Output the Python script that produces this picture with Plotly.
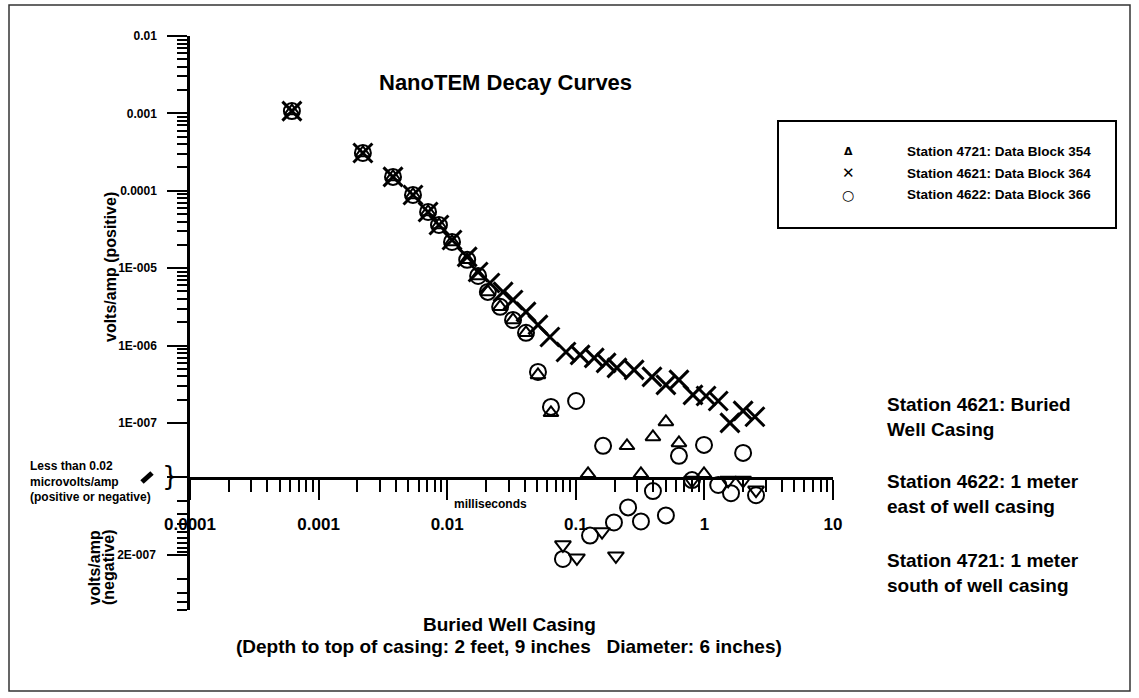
import math
import plotly.graph_objects as go

FONT = "Liberation Sans, Arial, sans-serif"

# ---------------- data (time in milliseconds, response in volts/amp) ----------------
# Station 4621: Data Block 364 (X markers)
t_4621 = [6.2e-4, 2.21e-3, 3.79e-3, 5.42e-3, 7.10e-3, 8.63e-3, 1.09e-2, 1.43e-2, 1.74e-2,
          2.15e-2, 2.72e-2, 3.25e-2, 4.10e-2, 5.08e-2, 6.29e-2, 8.39e-2, 0.108, 0.139, 0.172,
          0.209, 0.284, 0.391, 0.502, 0.634, 0.815, 1.03, 1.28, 1.58, 2.0, 2.47]
v_4621 = [1.07e-3, 3.08e-4, 1.51e-4, 8.83e-5, 5.32e-5, 3.61e-5, 2.31e-5, 1.40e-5, 8.93e-6,
          6.44e-6, 4.93e-6, 3.88e-6, 2.72e-6, 1.85e-6, 1.29e-6, 8.26e-7, 7.56e-7, 6.92e-7, 5.96e-7,
          5.14e-7, 4.84e-7, 3.93e-7, 3.10e-7, 3.60e-7, 2.30e-7, 2.23e-7, 1.92e-7, 1.0e-7, 1.43e-7, 1.20e-7]

# Station 4622: Data Block 366 (circles), positive values
t_4622_pos = [6.2e-4, 2.21e-3, 3.79e-3, 5.42e-3, 7.10e-3, 8.63e-3, 1.09e-2, 1.43e-2, 1.74e-2,
              2.07e-2, 2.58e-2, 3.25e-2, 4.10e-2, 5.08e-2, 6.41e-2, 0.1005, 0.163, 0.634, 0.993, 2.0]
v_4622_pos = [1.07e-3, 3.08e-4, 1.51e-4, 8.83e-5, 5.32e-5, 3.61e-5, 2.18e-5, 1.28e-5, 7.92e-6,
              4.93e-6, 3.16e-6, 2.14e-6, 1.46e-6, 4.56e-7, 1.61e-7, 1.92e-7, 5.05e-8, 3.75e-8, 5.2e-8, 4.1e-8]
# Station 4622 negative values
t_4622_neg = [0.0794, 0.129, 0.198, 0.255, 0.321, 0.398, 0.502, 0.801, 1.28, 1.61, 2.52]
v_4622_neg = [-2.23e-7, -1.12e-7, -7.62e-8, -4.89e-8, -7.40e-8, -3.03e-8, -6.19e-8, -2.19e-8,
              -2.53e-8, -3.22e-8, -3.42e-8]

# Station 4721: Data Block 354 (triangles), positive values
t_4721_pos = [6.2e-4, 2.21e-3, 3.79e-3, 5.42e-3, 7.10e-3, 8.63e-3, 1.09e-2, 1.43e-2, 1.74e-2,
              2.07e-2, 2.58e-2, 3.25e-2, 4.10e-2, 5.08e-2, 6.41e-2, 0.1245, 0.250, 0.321, 0.398,
              0.502, 0.634, 0.993]
v_4721_pos = [1.07e-3, 3.08e-4, 1.51e-4, 8.83e-5, 5.32e-5, 3.61e-5, 2.18e-5, 1.28e-5, 7.92e-6,
              4.93e-6, 3.16e-6, 2.14e-6, 1.46e-6, 4.17e-7, 1.35e-7, 2.2e-8, 5.05e-8, 2.2e-8, 6.59e-8,
              1.03e-7, 5.52e-8, 2.2e-8]
# Station 4721 negative values
t_4721_neg = [0.0794, 0.102, 0.160, 0.205, 0.801, 1.53, 2.0, 2.52]
v_4721_neg = [-1.47e-7, -2.16e-7, -9.98e-8, -2.04e-7, -2.2e-8, -2.2e-8, -2.2e-8, -2.94e-8]

# axis ticks
x_tickvals = [1e-4, 1e-3, 1e-2, 1e-1, 1, 10]
x_ticktext = ["0.0001", "0.001", "0.01", "0.1", "1", "10"]
y_tickvals = [1e-2, 1e-3, 1e-4, 1e-5, 1e-6, 1e-7, 2e-8]
y_ticktext = ["0.01", "0.001", "0.0001", "1E-005", "1E-006", "1E-007", ""]
yneg_tickvals = [2e-7]
yneg_ticktext = ["2E-007"]
threshold = 2e-8  # 0.02 microvolts/amp

x_minor = [k * 10.0 ** e for e in range(-4, 1) for k in range(2, 10)]
y_minor = [k * 10.0 ** e for e in range(-7, -2) for k in range(2, 10)]
yneg_minor = [k * threshold for k in range(2, 10)] + [4e-7, 6e-7, 8e-7, 1e-6]

# ---------------- layout geometry (pixels) ----------------
W, H = 1139, 698
L, R, T, B = 190, 833, 36, 610
AX_Y = 477


def px(x):
    return (x - L) / (R - L)


def py(y):
    return (B - y) / (B - T)


split = py(AX_Y)

fig = go.Figure()

mk = dict(color="black")
fig.add_trace(go.Scatter(x=t_4721_pos, y=v_4721_pos, mode="markers", name="Station 4721: Data Block 354",
                         marker=dict(symbol="triangle-up-open", size=13, line=dict(width=2, color="black"), **mk),
                         cliponaxis=False, xaxis="x", yaxis="y"))
fig.add_trace(go.Scatter(x=t_4621, y=v_4621, mode="markers", name="Station 4621: Data Block 364",
                         marker=dict(symbol="x-thin-open", size=19, line=dict(width=3, color="black"), **mk),
                         cliponaxis=False, xaxis="x", yaxis="y"))
fig.add_trace(go.Scatter(x=t_4622_pos, y=v_4622_pos, mode="markers", name="Station 4622: Data Block 366",
                         marker=dict(symbol="circle-open", size=16, line=dict(width=2, color="black"), **mk),
                         cliponaxis=False, xaxis="x", yaxis="y"))
fig.add_trace(go.Scatter(x=t_4721_neg, y=[-v for v in v_4721_neg], mode="markers",
                         name="Station 4721 (negative)", showlegend=False,
                         marker=dict(symbol="triangle-down-open", size=14, line=dict(width=2, color="black"), **mk),
                         cliponaxis=False, xaxis="x", yaxis="y2"))
fig.add_trace(go.Scatter(x=t_4622_neg, y=[-v for v in v_4622_neg], mode="markers",
                         name="Station 4622 (negative)", showlegend=False,
                         marker=dict(symbol="circle-open", size=16, line=dict(width=2, color="black"), **mk),
                         cliponaxis=False, xaxis="x", yaxis="y2"))

axis_common = dict(showline=True, linewidth=2.5, linecolor="black", showgrid=False, zeroline=False,
                   ticks="outside", tickwidth=2, tickcolor="black", tickmode="array")

fig.update_layout(
    width=W, height=H,
    margin=dict(l=L, r=W - R, t=T, b=H - B, pad=0),
    paper_bgcolor="white", plot_bgcolor="rgba(0,0,0,0)",
    showlegend=False,
    font=dict(family=FONT, color="black"),
    xaxis=dict(type="log", range=[-4, 1], anchor="y", ticklen=20,
               tickvals=x_tickvals, ticktext=x_ticktext,
               tickfont=dict(size=17, weight="bold", family=FONT), ticklabelstandoff=10,
               minor=dict(tickmode="array", tickvals=x_minor, ticks="outside", ticklen=12,
                          tickwidth=2, tickcolor="black", showgrid=False),
               **axis_common),
    yaxis=dict(type="log", domain=[split, 1], range=[math.log10(threshold), -2], anchor="x", ticklen=20,
               tickvals=y_tickvals, ticktext=y_ticktext,
               tickfont=dict(size=12, weight="bold", family=FONT), ticklabelstandoff=8,
               minor=dict(tickmode="array", tickvals=[v for v in y_minor if v > 1.5e-7], ticks="outside",
                          ticklen=10, tickwidth=2, tickcolor="black", showgrid=False),
               **axis_common),
    yaxis2=dict(type="log", domain=[0, split], range=[-6, math.log10(threshold)], anchor="x", ticklen=20,
                tickvals=yneg_tickvals, ticktext=yneg_ticktext,
                tickfont=dict(size=12, weight="bold", family=FONT), ticklabelstandoff=9,
                minor=dict(tickmode="array", tickvals=yneg_minor, ticks="outside",
                           ticklen=10, tickwidth=2, tickcolor="black", showgrid=False),
                **axis_common),
)

ann = []


def add_text(text, x, y, size, xanchor="center", yanchor="middle", align="center", angle=0, family=FONT):
    ann.append(dict(text=text, x=px(x), y=py(y), xref="paper", yref="paper", showarrow=False,
                    xanchor=xanchor, yanchor=yanchor, align=align, textangle=angle,
                    font=dict(size=size, family=family, color="black")))


add_text("<b>NanoTEM Decay Curves</b>", 505, 82, 22)
add_text("<b>volts/amp (positive)</b>", 110, 267, 16, angle=-90)
add_text("<b>volts/amp</b>", 94, 567, 16, angle=-90)
add_text("<b>(negative)</b>", 108, 567, 16, angle=-90)
add_text("<b>Less than 0.02<br>microvolts/amp<br>(positive or negative)</b>", 28, 481, 12,
         xanchor="left", align="left")
add_text("}", 170, 476, 26, family="DejaVu Sans")
add_text("<b>milliseconds</b>", 490, 504, 12)
add_text("<b>Buried Well Casing</b>", 509, 625, 19)
add_text("<b>(Depth to top of casing: 2 feet, 9 inches &nbsp; Diameter: 6 inches)</b>", 509, 646, 19)
add_text("<b>Station 4621: Buried<br>Well Casing</b>", 885, 417, 19, xanchor="left", align="left")
add_text("<b>Station 4622: 1 meter<br>east of well casing</b>", 885, 494, 19, xanchor="left", align="left")
add_text("<b>Station 4721: 1 meter<br>south of well casing</b>", 885, 573, 19, xanchor="left", align="left")

# legend (manual)
legend_rows = [("<b>Δ</b>", "Station 4721: Data Block 354", 151, 11),
               ("<b>✕</b>", "Station 4621: Data Block 364", 173, 15),
               ("○", "Station 4622: Data Block 366", 195, 14)]
for sym, label, yy, sz in legend_rows:
    add_text(sym, 848, yy, sz, family="DejaVu Sans")
    add_text("<b>" + label + "</b>", 905, yy, 13.5, xanchor="left", align="left")

fig.update_layout(annotations=ann)

shapes = [
    dict(type="rect", xref="paper", yref="paper", x0=px(9), x1=px(1130), y0=py(691), y1=py(5),
         line=dict(color="#333333", width=1.5), fillcolor="rgba(0,0,0,0)", layer="below"),
    dict(type="rect", xref="paper", yref="paper", x0=px(778), x1=px(1116), y0=py(228), y1=py(121),
         line=dict(color="black", width=2), fillcolor="rgba(0,0,0,0)"),
    dict(type="line", xref="paper", yref="paper", x0=px(142), x1=px(152), y0=py(482), y1=py(473),
         line=dict(color="black", width=5)),
]
fig.update_layout(shapes=shapes)

fig.write_html("out.html", config={"displayModeBar": False},
               post_script="document.body.style.margin='0';")
